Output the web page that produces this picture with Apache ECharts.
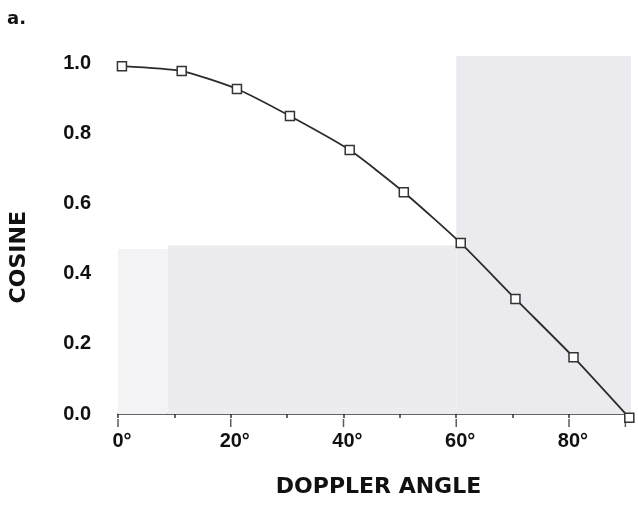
<!DOCTYPE html>
<html>
<head>
<meta charset="utf-8">
<script src="https://cdn.jsdelivr.net/npm/echarts@6/dist/echarts.min.js"></script>
<style>
  html, body { margin: 0; padding: 0; background: #fff; }
  #chart { width: 638px; height: 517px; }
</style>
</head>
<body>
<div id="chart"></div>
<script>
// values
const angles = [0.7, 11.3, 21.1, 30.5, 41.1, 50.7, 60.8, 70.5, 80.8, 90.7];
const cosines = [0.991, 0.977, 0.926, 0.849, 0.752, 0.632, 0.487, 0.328, 0.162, -0.011];
const yTicks = [0, 0.2, 0.4, 0.6, 0.8, 1.0];
const xLabelled = [0, 20, 40, 60, 80];
const longTicks = [0, 20, 40, 60, 80, 90];
// grey shaded blocks in the scan: [xFrom, xTo, yTop, colour]
const shadeBlocks = [
  [60, 91, 1.02, "#ebebef"],
  [8.8, 60, 0.48, "#ececf0"],
  [0, 8.8, 0.47, "#f3f3f5"],
];

const chart = echarts.init(document.getElementById("chart"));
const font = "'Liberation Sans', Arial, sans-serif";
const wideFont = "'DejaVu Sans', sans-serif";

const option = {
  animation: false,
  title: {
    text: "a.",
    left: 7,
    top: 10,
    padding: 0,
    textStyle: { fontFamily: wideFont, fontWeight: "bold", fontSize: 18, color: "#111" },
  },
  // top edge sits a little above 1.0 so the right shaded block can reach over it
  grid: { left: 117, right: 7, top: 52.5, bottom: 103 },
  xAxis: {
    type: "value",
    min: 0,
    max: 91,
    interval: 10,
    offset: 5,
    name: "DOPPLER ANGLE",
    nameLocation: "middle",
    nameGap: 57,
    nameTextStyle: { fontFamily: wideFont, fontWeight: "bold", fontSize: 22, color: "#111", padding: [0, 0, 0, 8] },
    axisLine: { show: true, lineStyle: { color: "#333", width: 1.5 } },
    axisTick: { show: true, length: 4, lineStyle: { color: "#333", width: 1.5 } },
    splitLine: { show: false },
    axisLabel: {
      margin: 12,
      fontFamily: font,
      fontWeight: "bold",
      fontSize: 20,
      color: "#111",
      padding: [0, 0, 0, 8],
      formatter: function (v) { return xLabelled.indexOf(v) >= 0 ? v + "°" : ""; },
    },
  },
  yAxis: {
    type: "value",
    min: 0,
    max: 1.03,
    interval: 0.2,
    name: "COSINE",
    nameLocation: "middle",
    nameGap: 88,
    nameTextStyle: { fontFamily: wideFont, fontWeight: "bold", fontSize: 22, color: "#111", padding: [0, 48, 0, 0] },
    axisLine: { show: false },
    axisTick: { show: false },
    splitLine: { show: false },
    axisLabel: {
      margin: 27,
      fontFamily: font,
      fontWeight: "bold",
      fontSize: 20,
      color: "#111",
      formatter: function (v) {
        return yTicks.some((t) => Math.abs(t - v) < 1e-6) ? v.toFixed(1) : "";
      },
    },
  },
  series: [
    {
      type: "line",
      data: angles.map((a, i) => [a, cosines[i]]),
      smooth: 0.2,
      clip: false,
      symbol: "rect",
      symbolSize: 9,
      itemStyle: { color: "#fff", borderColor: "#333", borderWidth: 1.5 },
      lineStyle: { color: "#2b2b2b", width: 1.8 },
      z: 5,
      markArea: {
        silent: true,
        data: shadeBlocks.map((b) => [
          { xAxis: b[0], yAxis: b[2], itemStyle: { color: b[3] } },
          { xAxis: b[1], yAxis: 0 },
        ]),
      },
    },
    {
      // longer ticks every 20 degrees
      type: "scatter",
      data: longTicks.map((a) => [a, 0]),
      symbol: "rect",
      symbolSize: [1.5, 8],
      symbolOffset: [0, 9],
      itemStyle: { color: "#333" },
      silent: true,
      z: 4,
    },
  ],
};

chart.setOption(option);
</script>
</body>
</html>
